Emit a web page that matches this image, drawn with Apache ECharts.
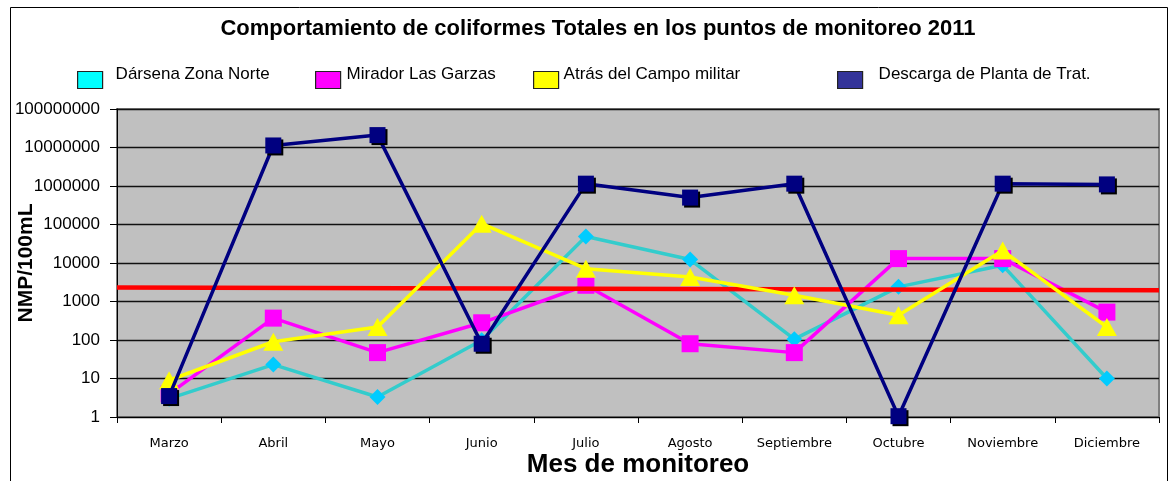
<!DOCTYPE html>
<html><head><meta charset="utf-8">
<script src="https://cdn.jsdelivr.net/npm/echarts@6/dist/echarts.min.js"></script>
<style>html,body{margin:0;padding:0;background:#fff}#c{width:1169px;height:481px}</style>
</head><body><div id="c"></div>
<script>
const months = ['Marzo','Abril','Mayo','Junio','Julio','Agosto','Septiembre','Octubre','Noviembre','Diciembre'];
const darsena = [3, 23, 3.3, 98, 49000, 12300, 105, 2400, 8700, 10];
const mirador = [4, 370, 47, 280, 2640, 80, 47, 13000, 13000, 530];
const atras = [9, 90, 218, 105000, 7100, 4350, 1450, 437, 21000, 218];
const descarga = [3.5, 11300000, 21000000, 80, 1150000, 500000, 1150000, 1.05, 1150000, 1100000];
const limiteX = [0, 1];
const limite = [2300, 1950];
const yTicks = [1,10,100,1000,10000,100000,1000000,10000000,100000000];

const chart = echarts.init(document.getElementById('c'));
const F = 'Arial, "Liberation Sans", sans-serif';
function leg(name, left, color, gap) {
  return {
    left: left, top: 66, itemWidth: 25, itemHeight: 17, itemGap: 0, padding: 0,
    icon: 'rect', data: [{name: name, itemStyle: {color: color, borderColor: '#222', borderWidth: 1.2}}],
    formatter: n => '{a|' + n + '}',
    textStyle: {fontFamily: F, fontSize: 17, color: '#000',
      rich: {a: {fontFamily: F, fontSize: 17, color: '#000', padding: [0, 0, 11, gap]}}}
  };
}
chart.setOption({
  animation: false,
  graphic: [{type: 'rect', left: 8, top: 5, shape: {width: 1157, height: 500}, style: {fill: 'none', stroke: '#000', lineWidth: 1}, z: -1}],
  title: {text: 'Comportamiento de coliformes Totales en los puntos de monitoreo 2011', left: 598, top: 18, textAlign: 'center', padding: 0,
    textStyle: {fontFamily: F, fontSize: 22, fontWeight: 'bold', color: '#000'}},
  legend: [
    leg('Dársena Zona Norte', 77, '#00FFFF', 8),
    leg('Mirador Las Garzas', 315, '#FF00FF', 1),
    leg('Atrás del Campo militar', 533, '#FFFF00', 0),
    leg('Descarga de Planta de Trat.', 837, '#333399', 11)
  ],
  grid: {left: 117, right: 10, top: 109, bottom: 64, outerBoundsMode: 'none', containLabel: false,
    show: true, backgroundColor: '#C0C0C0', borderColor: '#808080', borderWidth: 2},
  xAxis: [{type: 'category', data: months, boundaryGap: true,
    name: 'Mes de monitoreo', nameLocation: 'middle', nameGap: 35, nameMoveOverlap: false,
    nameTextStyle: {fontFamily: F, fontSize: 26, fontWeight: 'bold', color: '#000'},
    axisLine: {lineStyle: {color: '#000', width: 1}},
    axisTick: {show: true, length: 6, lineStyle: {color: '#000'}},
    axisLabel: {fontFamily: '"DejaVu Sans", sans-serif', fontSize: 13, color: '#000', margin: 20, interval: 0}
  }, {type: 'value', min: 0, max: 1, show: false}],
  yAxis: {type: 'log', logBase: 10, min: 1, max: 100000000,
    name: 'NMP/100mL', nameLocation: 'middle', nameGap: 80, nameRotate: 90, nameMoveOverlap: false,
    nameTextStyle: {fontFamily: F, fontSize: 21, fontWeight: 'bold', color: '#000'},
    axisLine: {show: true, lineStyle: {color: '#000', width: 1}},
    axisTick: {show: true, length: 7, lineStyle: {color: '#000'}},
    axisLabel: {fontFamily: F, fontSize: 17, color: '#000', margin: 17, formatter: v => yTicks.includes(Math.round(v)) ? String(Math.round(v)) : ''},
    splitLine: {show: true, lineStyle: {color: '#111', width: 1.3}}
  },
  series: [
    {name: 'Dársena Zona Norte', type: 'line', data: darsena, symbol: 'diamond', symbolSize: 16,
      lineStyle: {color: '#33CCCC', width: 3.5}, itemStyle: {color: '#00CCFF'}, z: 2},
    {name: 'Mirador Las Garzas', type: 'line', data: mirador, symbol: 'rect', symbolSize: 17,
      lineStyle: {color: '#FF00FF', width: 3.5}, itemStyle: {color: '#FF00FF'}, z: 3},
    {name: 'Atrás del Campo militar', type: 'line', data: atras, symbol: 'triangle', symbolSize: [20, 18],
      lineStyle: {color: '#FFFF00', width: 3.5}, itemStyle: {color: '#FFFF00'}, z: 4},
    {name: 'Descarga de Planta de Trat.', type: 'line', data: descarga, symbol: 'rect', symbolSize: 16,
      lineStyle: {color: '#000080', width: 3.5}, itemStyle: {color: '#000080', shadowColor: '#000', shadowOffsetX: 2, shadowOffsetY: 2, shadowBlur: 0}, z: 5},
    {name: 'Límite', type: 'line', xAxisIndex: 1, data: limiteX.map((x, i) => [x, limite[i]]), symbol: 'none',
      lineStyle: {color: '#FF0000', width: 4.5}, z: 3.5, silent: true}
  ]
});
</script></body></html>
